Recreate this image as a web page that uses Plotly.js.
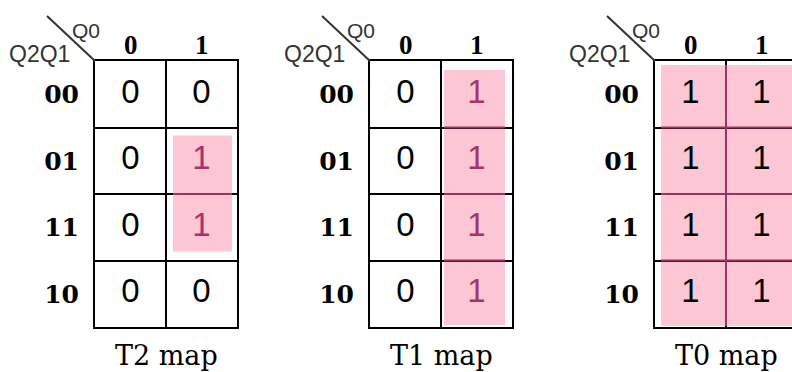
<!DOCTYPE html>
<html>
<head>
<meta charset="utf-8">
<script src="https://cdn.plot.ly/plotly-3.0.1.min.js"></script>
<style>html,body{margin:0;padding:0;background:#fff;}#chart{width:792px;height:372px;}</style>
</head>
<body>
<div id="chart"></div>
<script>
// ---- data ----
const rowLabels = ['00', '01', '11', '10'];
const colLabels = ['0', '1'];
const rowVarName = 'Q2Q1';
const colVarName = 'Q0';
const mapNames = ['T2 map', 'T1 map', 'T0 map'];
const t2Values = [[0, 0], [0, 1], [0, 1], [0, 0]];
const t1Values = [[0, 1], [0, 1], [0, 1], [0, 1]];
const t0Values = [[1, 1], [1, 1], [1, 1], [1, 1]];
// groups: [firstRow, lastRow, firstCol, lastCol]
const t2Groups = [[1, 2, 1, 1]];
const t1Groups = [[0, 3, 1, 1]];
const t0Groups = [[0, 3, 0, 1]];

// ---- style / layout ----
const W = 792, H = 372;
const gridTop = 61, gridBottom = 327, gridWidth = 142;
const PINK = '#fcc6d4', MAROON = '#9c3362';
const rowFont = {family: 'DejaVu Serif', size: 25, color: '#000', weight: 'bold'};
const colFont = {family: 'Liberation Serif', size: 27, color: '#000', weight: 'bold'};
const maps = [
  {values: t2Values, groups: t2Groups, name: mapNames[0], left: 95, inset: {l: 7, r: 5, t: 8, b: 9}, oneColor: '#a8336a', mirrorY: true},
  {values: t1Values, groups: t1Groups, name: mapNames[1], left: 370, inset: {l: 3, r: 7, t: 9, b: 2}, oneColor: '#a8336a', mirrorY: true},
  {values: t0Values, groups: t0Groups, name: mapNames[2], left: 655, inset: {l: 6, r: 0, t: 4, b: 1}, oneColor: '#000', mirrorY: false}
];

const nRows = rowLabels.length, nCols = colLabels.length;
const colPx = gridWidth / nCols;
const rowPx = (gridBottom - gridTop) / nRows;

const data = [];
const shapes = [];
const annotations = [];
const layout = {
  width: W, height: H,
  margin: {l: 0, r: 0, t: 0, b: 0, pad: 0},
  paper_bgcolor: '#fff', plot_bgcolor: '#fff',
  showlegend: false
};

maps.forEach((m, i) => {
  const s = i === 0 ? '' : String(i + 1);
  const right = Math.min(m.left + gridWidth, W);
  const xr = (right - m.left) / colPx;
  layout['xaxis' + s] = {
    domain: [m.left / W, right / W],
    range: [0, xr], autorange: false,
    side: 'top', anchor: 'y' + s,
    tickmode: 'array',
    tickvals: colLabels.map((_, c) => c + 0.5),
    ticktext: colLabels,
    showticklabels: false, ticks: '',
    showgrid: false, zeroline: false,
    showline: true, mirror: true, linecolor: '#000', linewidth: 2,
    minor: {tickmode: 'array', tickvals: colLabels.slice(1).map((_, c) => c + 1), showgrid: true, gridcolor: '#000', gridwidth: 2, ticks: ''}
  };
  layout['yaxis' + s] = {
    domain: [1 - gridBottom / H, 1 - gridTop / H],
    range: [nRows, 0], autorange: false,
    anchor: 'x' + s,
    tickmode: 'array',
    tickvals: rowLabels.map((_, r) => r + 0.5),
    ticktext: rowLabels,
    ticks: '', ticklabelstandoff: 9,
    tickfont: rowFont,
    showgrid: false, zeroline: false,
    showline: true, mirror: m.mirrorY, linecolor: '#000', linewidth: 2,
    minor: {tickmode: 'array', tickvals: rowLabels.slice(1).map((_, r) => r + 1), showgrid: true, gridcolor: '#000', gridwidth: 2, ticks: ''}
  };

  // column headers (on the x axis tick positions)
  colLabels.forEach((lab, c) => {
    annotations.push({xref: 'x' + s, yref: 'y' + s + ' domain', x: c + 0.5, y: 1,
      xanchor: 'center', yanchor: 'middle', yshift: 16, text: lab, showarrow: false,
      font: colFont});
  });

  // cell values
  const xs = [], ys = [], txt = [], cols = [];
  m.values.forEach((row, r) => row.forEach((v, c) => {
    xs.push(c + 0.5); ys.push(r + 0.5); txt.push(String(v));
    cols.push(v === 1 ? m.oneColor : '#000');
  }));
  data.push({
    type: 'scatter', mode: 'text', x: xs, y: ys, text: txt,
    textposition: 'middle center',
    textfont: {family: 'Liberation Sans, Arial', size: 33, color: cols},
    xaxis: 'x' + s, yaxis: 'y' + s, hoverinfo: 'skip', cliponaxis: false
  });

  // groups (pink) + tinted interior lines
  m.groups.forEach(g => {
    const [r0, r1, c0, c1] = g;
    const x0 = c0 + m.inset.l / colPx, x1 = c1 + 1 - m.inset.r / colPx;
    const y0 = r0 + m.inset.t / rowPx, y1 = r1 + 1 - m.inset.b / rowPx;
    shapes.push({type: 'rect', xref: 'x' + s, yref: 'y' + s, x0, x1, y0, y1,
      fillcolor: PINK, line: {width: 0}, layer: 'below'});
    for (let rb = r0 + 1; rb <= r1; rb++) {
      shapes.push({type: 'line', xref: 'x' + s, yref: 'y' + s, x0, x1, y0: rb, y1: rb,
        line: {color: MAROON, width: 2}, layer: 'above'});
    }
    for (let cb = c0 + 1; cb <= c1; cb++) {
      shapes.push({type: 'line', xref: 'x' + s, yref: 'y' + s, x0: cb, x1: cb, y0, y1,
        line: {color: MAROON, width: 2}, layer: 'above'});
    }
  });

  // corner diagonal
  shapes.push({type: 'line', xref: 'x' + s + ' domain', yref: 'y' + s + ' domain',
    xsizemode: 'pixel', xanchor: 0, x0: -48, x1: 0,
    ysizemode: 'pixel', yanchor: 1, y0: 45, y1: 0,
    line: {color: '#333', width: 2}, layer: 'above'});

  annotations.push({xref: 'x' + s + ' domain', yref: 'y' + s + ' domain', x: 0, y: 1,
    xanchor: 'center', yanchor: 'middle',
    xshift: -9, yshift: 30, text: colVarName, showarrow: false,
    font: {family: 'Liberation Sans, Arial', size: 21, color: '#333'}});
  annotations.push({xref: 'x' + s + ' domain', yref: 'y' + s + ' domain', x: 0, y: 1,
    xanchor: 'center', yanchor: 'middle',
    xshift: -56, yshift: 7, text: rowVarName, showarrow: false,
    font: {family: 'Liberation Sans, Arial', size: 23, color: '#333'}});
  annotations.push({xref: 'x' + s, yref: 'y' + s + ' domain', x: nCols / 2, y: 0,
    xanchor: 'center', yanchor: 'middle',
    yshift: -28, text: m.name, showarrow: false,
    font: {family: 'DejaVu Serif', size: 27, color: '#000'}});
});

layout.shapes = shapes;
layout.annotations = annotations;

Plotly.newPlot('chart', data, layout, {staticPlot: true, displayModeBar: false});
</script>
</body>
</html>
